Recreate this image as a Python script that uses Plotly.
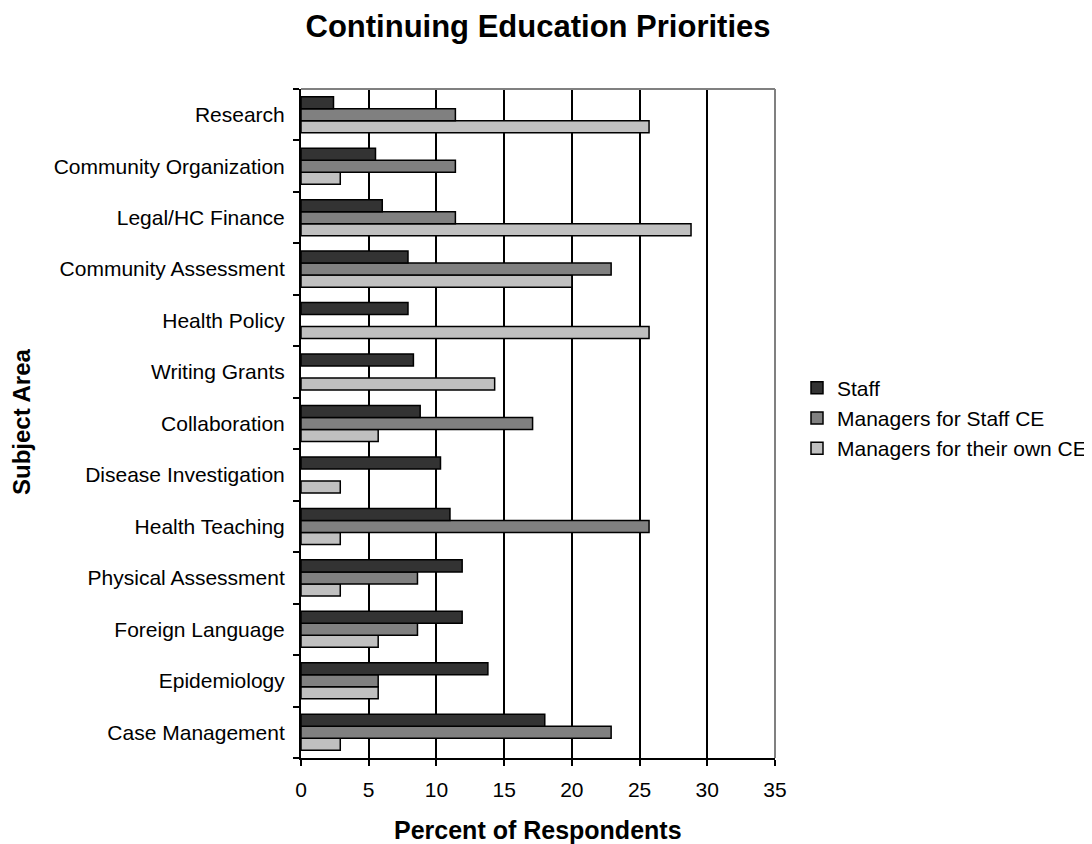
import plotly.graph_objects as go

categories = ["Case Management", "Epidemiology", "Foreign Language", "Physical Assessment",
              "Health Teaching", "Disease Investigation", "Collaboration", "Writing Grants",
              "Health Policy", "Community Assessment", "Legal/HC Finance",
              "Community Organization", "Research"]
staff = [18.0, 13.8, 11.9, 11.9, 11.0, 10.3, 8.8, 8.3, 7.9, 7.9, 6.0, 5.5, 2.4]
managers_staff = [22.9, 5.7, 8.6, 8.6, 25.7, None, 17.1, None, None, 22.9, 11.4, 11.4, 11.4]
managers_own = [2.9, 5.7, 5.7, 2.9, 2.9, 2.9, 5.7, 14.3, 25.7, 20.0, 28.8, 2.9, 25.7]
x_ticks = [0, 5, 10, 15, 20, 25, 30, 35]

FONT = "Liberation Sans, Arial, sans-serif"
# page has an 8px body margin; figure coordinates = page coordinates - 8
OFF = 8
W, H = 1092 - OFF, 844 - OFF
L, R, T, B = 301 - OFF, 775 - OFF, 89 - OFF, 758 - OFF

fig = go.Figure()
series = [
    ("Managers for their own CE", managers_own, "#c0c0c0"),
    ("Managers for Staff CE", managers_staff, "#808080"),
    ("Staff", staff, "#333333"),
]
for name, vals, col in series:
    fig.add_trace(go.Bar(
        y=categories, x=vals, name=name, orientation="h",
        marker=dict(color=col, line=dict(color="black", width=1.5)),
    ))

fig.update_layout(
    width=W, height=H,
    margin=dict(l=L, r=W - R, t=T, b=H - B, autoexpand=False),
    paper_bgcolor="white", plot_bgcolor="white",
    barmode="group", bargap=0.3, bargroupgap=0,
    font=dict(family=FONT, size=21, color="black"),
    title=dict(text="<b>Continuing Education Priorities</b>",
               font=dict(family=FONT, size=31, color="black"),
               xref="container", x=(L + R) / 2 / W, xanchor="center",
               yref="container", y=1 - (26 - OFF) / H, yanchor="middle"),
    legend=dict(traceorder="reversed", xref="container", x=(797 - OFF) / W, xanchor="left",
                yref="container", y=1 - (418 - OFF) / H, yanchor="middle",
                font=dict(family=FONT, size=21), itemwidth=30, tracegroupgap=0,
                bgcolor="rgba(0,0,0,0)"),
    showlegend=True,
)

fig.update_xaxes(
    range=[0, 35], tickvals=x_ticks, ticktext=[str(v) for v in x_ticks],
    showgrid=True, gridcolor="black", gridwidth=2,
    showline=True, linecolor="black", linewidth=2, mirror=False,
    ticks="outside", ticklen=6, tickwidth=2, tickcolor="black",
    ticklabelstandoff=6, zeroline=False, automargin=False,
)
fig.update_yaxes(
    categoryorder="array", categoryarray=categories,
    showline=True, linecolor="black", linewidth=2, mirror=False,
    ticks="outside", ticklen=6, tickwidth=2, tickcolor="black", tickson="boundaries",
    ticklabelstandoff=10, showgrid=False, automargin=False,
)

fig.add_annotation(text="<b>Percent of Respondents</b>", xref="paper", yref="paper",
                   x=0.5, y=(B - (830 - OFF)) / (B - T), xanchor="center", yanchor="middle",
                   showarrow=False, font=dict(family=FONT, size=25))
fig.add_annotation(text="<b>Subject Area</b>", xref="paper", yref="paper",
                   x=((21 - OFF) - L) / (R - L), y=(B - (422 - OFF)) / (B - T),
                   xanchor="center", yanchor="middle",
                   textangle=-90, showarrow=False, font=dict(family=FONT, size=24))

# gray plot-area frame on top and right
fig.add_shape(type="line", xref="paper", yref="paper", x0=0, x1=1, y0=1, y1=1,
              line=dict(color="#808080", width=2))
fig.add_shape(type="line", xref="paper", yref="paper", x0=1, x1=1, y0=0, y1=1,
              line=dict(color="#808080", width=2))

fig.write_html("out.html")
